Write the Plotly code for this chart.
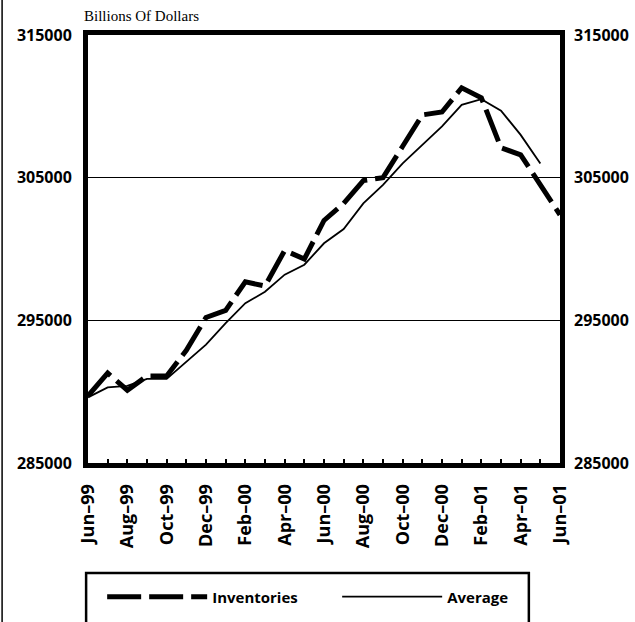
import plotly.graph_objects as go

months = ["Jun–99", "Jul–99", "Aug–99", "Sep–99", "Oct–99", "Nov–99", "Dec–99",
          "Jan–00", "Feb–00", "Mar–00", "Apr–00", "May–00", "Jun–00", "Jul–00",
          "Aug–00", "Sep–00", "Oct–00", "Nov–00", "Dec–00", "Jan–01", "Feb–01",
          "Mar–01", "Apr–01", "May–01", "Jun–01"]

inventories = [289700, 291300, 290100, 291100, 291100, 292900, 295200, 295700,
               297700, 297400, 299900, 299300, 302000, 303200, 304800, 305000,
               307200, 309400, 309600, 311300, 310600, 307100, 306600, 304500,
               302400]

average = [289600, 290300, 290400, 290900, 290900, 292100, 293300, 294800,
           296200, 297000, 298200, 298900, 300400, 301400, 303200, 304500,
           306000, 307300, 308600, 310100, 310500, 309700, 308000, 306000]

y_ticks = [285000, 295000, 305000, 315000]
x_idx = list(range(len(months)))

fig = go.Figure()
fig.add_trace(go.Scatter(
    x=x_idx, y=inventories, name="Inventories", mode="lines",
    line=dict(color="black", width=5, dash="34px,8px"),
))
fig.add_trace(go.Scatter(
    x=x_idx[:len(average)], y=average, name="Average", mode="lines",
    line=dict(color="black", width=1.8),
))

tickfont = dict(family="Open Sans", size=16, color="black", weight="bold")
xtickfont = dict(family="Open Sans", size=18, color="black", weight="bold")

fig.update_layout(
    width=635, height=622,
    margin=dict(l=88, r=75, t=35, b=159, autoexpand=False),
    paper_bgcolor="white", plot_bgcolor="white",
    showlegend=True,
    legend=dict(orientation="h", x=0.03, y=-0.313, xanchor="left", yanchor="middle",
                font=dict(family="Open Sans", size=15, color="black", weight="bold"),
                itemwidth=100, entrywidth=120, bgcolor="rgba(0,0,0,0)"),
    xaxis=dict(range=[0, 24], tickmode="array",
               tickvals=x_idx[::2], ticktext=months[::2],
               tickangle=-90, tickfont=xtickfont, ticklabelstandoff=9,
               ticks="inside", ticklen=4, tickwidth=1.5, tickcolor="black",
               minor=dict(ticks="inside", dtick=1, ticklen=4, tickwidth=1.5, tickcolor="black"),
               showline=True, linewidth=5, linecolor="black", mirror=True,
               showgrid=False, zeroline=False),
    yaxis=dict(range=[285000, 315000], tickmode="array", tickvals=y_ticks,
               tickformat="d", tickfont=tickfont, ticks="", ticklabelstandoff=8,
               showline=True, linewidth=5, linecolor="black", mirror=True,
               showgrid=True, gridcolor="black", gridwidth=1, zeroline=False),
    yaxis2=dict(range=[285000, 315000], tickmode="array", tickvals=y_ticks,
                tickformat="d", tickfont=tickfont, overlaying="y", side="right",
                ticklabelstandoff=13,
                showgrid=False, zeroline=False, showline=False),
    annotations=[dict(text="Billions Of Dollars", xref="paper", yref="paper",
                      x=-0.013, y=1.022, xanchor="left", yanchor="bottom",
                      showarrow=False,
                      font=dict(family="Liberation Serif", size=15, color="black"))],
    shapes=[
        dict(type="rect", xref="paper", yref="paper", x0=-0.004, x1=0.934,
             y0=-0.38, y1=-0.257, line=dict(color="black", width=2.5)),
        dict(type="line", xref="paper", yref="paper", x0=-0.182, x1=-0.182,
             y0=-0.38, y1=1.09, line=dict(color="black", width=1.5)),
    ],
)
# dummy trace to activate the right axis
fig.add_trace(go.Scatter(x=[None], y=[None], yaxis="y2", showlegend=False))

fig.write_html("out.html", config={"displayModeBar": False},
               post_script="document.body.style.margin='0';document.body.style.overflow='hidden';")
